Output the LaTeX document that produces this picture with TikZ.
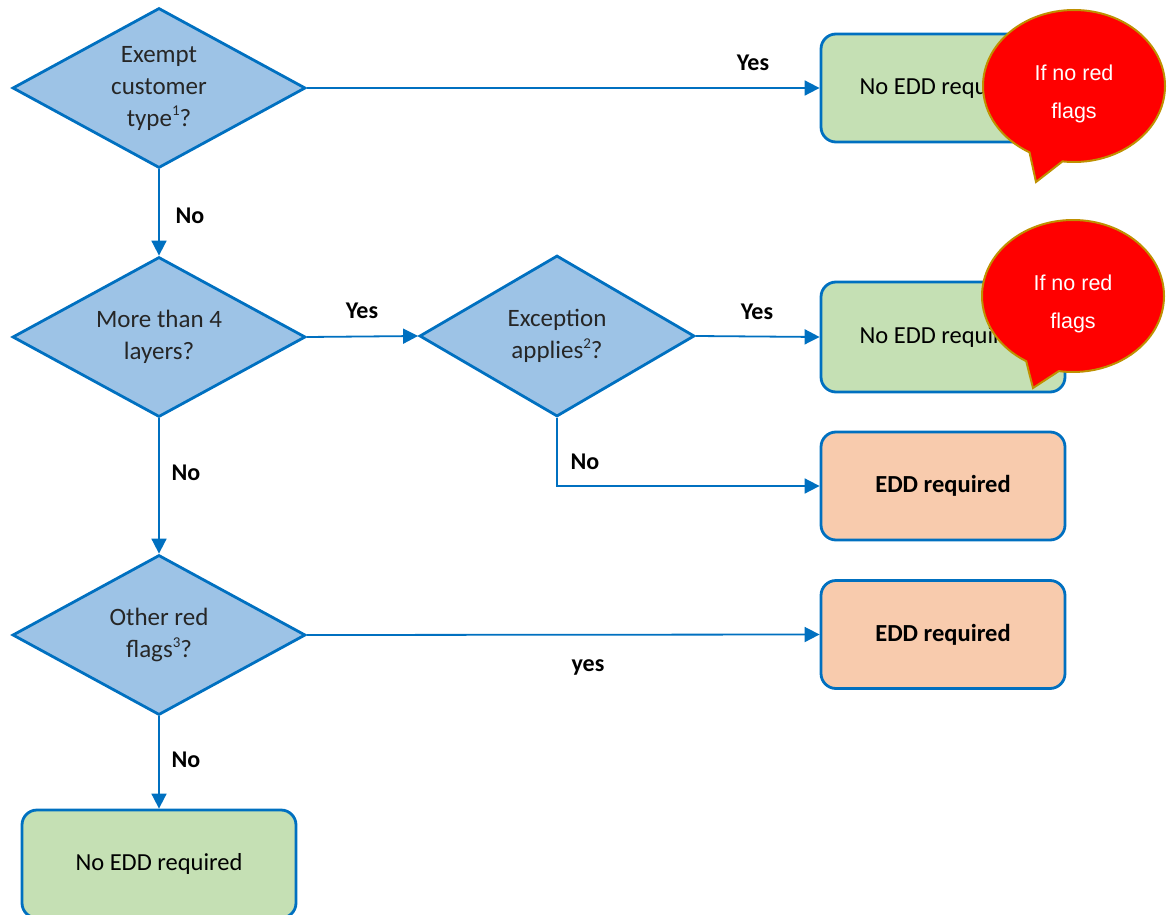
\documentclass[tikz,border=0pt]{standalone}
\usepackage{fontspec}
\setmainfont{Carlito}
\newfontfamily\arialf{Liberation Sans}
\usetikzlibrary{shapes.geometric,shapes.callouts,arrows.meta}
\definecolor{lineblue}{RGB}{0,112,192}
\definecolor{dfill}{RGB}{157,195,230}
\definecolor{gfill}{RGB}{197,224,180}
\definecolor{ofill}{RGB}{248,203,173}
\definecolor{cborder}{RGB}{191,144,0}
\definecolor{dtext}{RGB}{38,38,38}
\newcommand{\supnum}[1]{\raisebox{0.42em}{\fontsize{15}{15}\selectfont #1}}
\tikzset{
  decision/.style={shape=diamond, aspect=1.83, draw=lineblue, fill=dfill, line width=2.8pt, inner sep=0pt,
    minimum width=293pt, minimum height=160pt, align=center, text=dtext,
    font=\fontsize{25}{32}\selectfont},
  outbox/.style={rectangle, rounded corners=15pt, draw=lineblue, line width=2.8pt,
    minimum width=244pt, minimum height=108pt, align=center, text=black,
    font=\fontsize{24.5}{28}\selectfont},
  greenbox/.style={outbox, fill=gfill},
  orangebox/.style={outbox, fill=ofill, font=\fontsize{24.5}{28}\selectfont\bfseries},
  conn/.style={draw=lineblue, line width=1.8pt, -{Triangle[length=15pt,width=15pt]}},
  lab/.style={font=\fontsize{24}{28}\selectfont\bfseries, text=black, inner sep=0pt},
  bubble/.style={ellipse callout, draw=cborder, fill=red, line width=2pt, text=white,
    minimum width=182pt, minimum height=152pt, align=center, inner sep=0pt,
    callout pointer arc=22, font=\arialf\fontsize{21.5}{38}\selectfont},
}
\begin{document}
\begin{tikzpicture}[x=1pt,y=-1pt]
\useasboundingbox (0,0) rectangle (1170,915);
% decisions
\node[decision] (d1) at (159,88) {Exempt\\customer\\type\supnum{1}?};
\node[decision] (d2) at (159,337) {More than 4\\layers?};
\node[decision, minimum width=275pt, minimum height=161pt] (d3) at (557,336) {Exception\\applies\supnum{2}?};
\node[decision] (d4) at (159,635) {Other red\\flags\supnum{3}?};
% outcomes
\node[greenbox] (b1) at (943,88) {No EDD required};
\node[greenbox, minimum height=110pt] (b2) at (943,337) {No EDD required};
\node[orangebox] (b3) at (943,486) {EDD required};
\node[orangebox] (b4) at (943,634.5) {EDD required};
\node[greenbox, minimum width=274pt] (b5) at (159,864) {No EDD required};
% connectors
\draw[conn] (d1.east) -- (b1.west);
\draw[conn] (d1.south) -- (d2.north);
\draw[conn] (d2.east) -- (d3.west);
\draw[conn] (d3.east) -- (b2.west);
\draw[conn] (d3.south) |- (b3.west);
\draw[conn] (d2.south) -- (d4.north);
\draw[conn] (d4.east) -- (b4.west);
\draw[conn] (d4.south) -- (b5.north);
% labels
\node[lab] (l1) at (753,63) {Yes};
\node[lab] (l2) at (190,216) {No};
\node[lab] (l3) at (362,311) {Yes};
\node[lab] (l4) at (757,312) {Yes};
\node[lab] (l5) at (585,462) {No};
\node[lab] (l6) at (186,473) {No};
\node[lab] (l7) at (588,667) {yes};
\node[lab] (l8) at (186,760) {No};
% callouts
\node[bubble, callout absolute pointer={(1036,182)}] (c1) at (1074,86) {\rule{0pt}{31pt}If no red\\flags};
\node[bubble, callout absolute pointer={(1033,388)}] (c2) at (1073,296) {\rule{0pt}{31pt}If no red\\flags};
\end{tikzpicture}
\end{document}
